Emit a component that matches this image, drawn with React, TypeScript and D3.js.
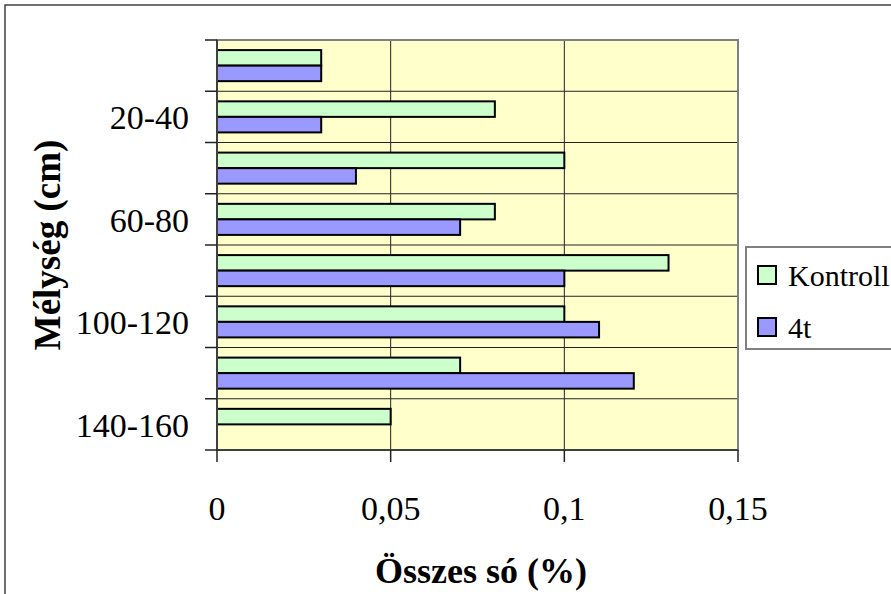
import React from "react";
import * as d3 from "d3";

const categories = ["0-20", "20-40", "40-60", "60-80", "80-100", "100-120", "120-140", "140-160"];
const shownLabels = ["20-40", "60-80", "100-120", "140-160"];
const seriesNames = ["Kontroll", "4t"];
const kontroll = [0.03, 0.08, 0.1, 0.08, 0.13, 0.1, 0.07, 0.05];
const negyT: (number | null)[] = [0.03, 0.03, 0.04, 0.07, 0.1, 0.11, 0.12, null];
const xTicks = [0, 0.05, 0.1, 0.15];
const xTickLabels = ["0", "0,05", "0,1", "0,15"];
const colors = ["#CCFFCC", "#9999FF"];

const W = 891;
const H = 594;
const plot = { left: 217, right: 738, top: 40, bottom: 450 };

export default function App() {
  const x = d3.scaleLinear().domain([0, 0.15]).range([plot.left, plot.right]);
  const y = d3.scaleBand<string>().domain(categories).range([plot.top, plot.bottom]).padding(0);
  const sub = d3.scaleBand<string>().domain(seriesNames).range([0, y.bandwidth()]).paddingInner(0).paddingOuter(0.65);
  const values = [kontroll, negyT];
  const boundaries = categories.map((c) => y(c)!).concat([plot.bottom]);
  const font = '"Liberation Serif", "Times New Roman", Times, "DejaVu Serif", serif';

  return (
    <svg width={W} height={H} style={{ position: "absolute", left: 0, top: 0, fontFamily: font }}>
      <rect x={0} y={0} width={W} height={H} fill="#fff" />
      <rect x={5} y={5} width={W + 10} height={H + 10} fill="none" stroke="#404040" strokeWidth={1.5} />
      <rect x={plot.left} y={plot.top} width={plot.right - plot.left} height={plot.bottom - plot.top} fill="#FFFFCC" />
      {xTicks.slice(1, -1).map((t) => (
        <line key={"vg" + t} x1={x(t)} x2={x(t)} y1={plot.top} y2={plot.bottom} stroke="#222" strokeWidth={1} />
      ))}
      {boundaries.slice(1, -1).map((b, i) => (
        <line key={"hg" + i} x1={plot.left} x2={plot.right} y1={b} y2={b} stroke="#222" strokeWidth={1} />
      ))}
      <rect x={plot.left} y={plot.top} width={plot.right - plot.left} height={plot.bottom - plot.top} fill="none" stroke="#808080" strokeWidth={2} />
      {values.map((vals, si) =>
        vals.map((v, ci) =>
          v == null ? null : (
            <rect
              key={si + "-" + ci}
              x={x(0)}
              y={y(categories[ci])! + sub(seriesNames[si])!}
              width={x(v) - x(0)}
              height={sub.bandwidth()}
              fill={colors[si]}
              stroke="#000"
              strokeWidth={2}
            />
          )
        )
      )}
      <line x1={plot.left} x2={plot.left} y1={plot.top} y2={plot.bottom} stroke="#404040" strokeWidth={2} />
      {boundaries.map((b, i) => (
        <line key={"yt" + i} x1={plot.left - 12} x2={plot.left} y1={b} y2={b} stroke="#222" strokeWidth={1.5} />
      ))}
      {categories.map((c) =>
        shownLabels.includes(c) ? (
          <text key={"yl" + c} x={189} y={y(c)! + y.bandwidth() / 2} dy="0.36em" textAnchor="end" fontSize={34} fill="#000">
            {c}
          </text>
        ) : null
      )}
      <line x1={plot.left} x2={plot.right} y1={plot.bottom} y2={plot.bottom} stroke="#404040" strokeWidth={2} />
      {xTicks.map((t) => (
        <line key={"xt" + t} x1={x(t)} x2={x(t)} y1={plot.bottom} y2={plot.bottom + 12} stroke="#222" strokeWidth={1.5} />
      ))}
      {xTicks.map((t, i) => (
        <text key={"xl" + t} x={x(t)} y={520} textAnchor="middle" fontSize={34} fill="#000">
          {xTickLabels[i]}
        </text>
      ))}
      <text x={481} y={583} textAnchor="middle" fontSize={36} fontWeight="bold" fill="#000">
        Összes só (%)
      </text>
      <text transform="translate(60,245) rotate(-90)" textAnchor="middle" fontSize={37} fontWeight="bold" fill="#000">
        Mélység (cm)
      </text>
      <rect x={746} y={247} width={200} height={102} fill="#fff" stroke="#808080" strokeWidth={2} />
      {seriesNames.map((s, i) => (
        <g key={"lg" + s}>
          <rect x={758} y={266 + i * 52} width={18} height={18} fill={colors[i]} stroke="#000" strokeWidth={2} />
          <text x={788} y={275 + i * 52} dy="0.36em" fontSize={30} fill="#000">
            {s}
          </text>
        </g>
      ))}
    </svg>
  );
}
